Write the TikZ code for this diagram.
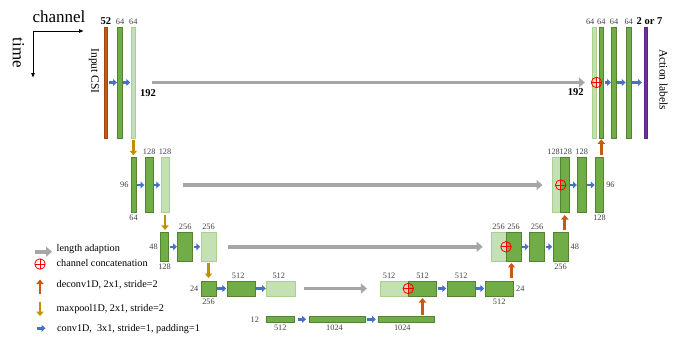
\documentclass[tikz,border=0pt]{standalone}
\usepackage{fontspec}
\setmainfont{Liberation Serif}
\usetikzlibrary{positioning,arrows.meta}
\definecolor{dkgreen}{HTML}{70AD47}
\definecolor{dkline}{HTML}{548235}
\definecolor{ltgreen}{HTML}{C5E0B4}
\definecolor{ltline}{HTML}{A9D18E}
\definecolor{csibrown}{HTML}{C55A11}
\definecolor{actpurple}{HTML}{7030A0}
\definecolor{convblue}{HTML}{4472C4}
\definecolor{lengray}{HTML}{A6A6A6}
\definecolor{upbrown}{HTML}{C55A11}
\definecolor{poolgold}{HTML}{BF9000}

\begin{document}
\begin{tikzpicture}[x=1pt,y=-1pt,
  dk/.style={draw=dkline,fill=dkgreen,line width=0.6pt,inner sep=0pt,outer sep=0pt},
  lt/.style={draw=ltline,fill=ltgreen,line width=0.6pt,inner sep=0pt,outer sep=0pt},
  brn/.style={draw=csibrown!80!black,fill=csibrown,line width=0.5pt,inner sep=0pt,outer sep=0pt},
  prp/.style={draw=actpurple!80!black,fill=actpurple,line width=0.5pt,inner sep=0pt,outer sep=0pt},
  w52/.style={minimum width=3.4pt}, w64/.style={minimum width=4.6pt},
  w128/.style={minimum width=8.2pt}, w256/.style={minimum width=15pt},
  w512/.style={minimum width=28.4pt}, w1024/.style={minimum width=56pt},
  h192/.style={minimum height=111pt}, h96/.style={minimum height=55.4pt},
  h48/.style={minimum height=28.3pt}, h24/.style={minimum height=15pt},
  h12/.style={minimum height=6.7pt},
  num/.style={font=\fontsize{8.3}{9}\selectfont,text=black!75,inner sep=1pt},
  big/.style={font=\fontsize{10.5}{12}\selectfont\bfseries,inner sep=1pt},
  leg/.style={font=\fontsize{10.2}{12}\selectfont,inner sep=0pt,anchor=base west},
  conv/.style={draw=convblue,line width=2.6pt,-{Triangle[length=3.8pt,width=6.8pt]},shorten <=1pt,shorten >=0.8pt},
  len/.style={draw=lengray,line width=3.8pt,-{Triangle[length=6pt,width=10pt]}},
  pool/.style={draw=poolgold,line width=2.7pt,-{Triangle[length=4.5pt,width=7.2pt]}},
  deconv/.style={draw=upbrown,line width=2.7pt,-{Triangle[length=4.5pt,width=7.2pt]}},
  cat/.style={circle,draw=red,line width=0.8pt,minimum size=10.5pt,inner sep=0pt,
    path picture={\draw[red,line width=0.8pt] (path picture bounding box.north) -- (path picture bounding box.south)
      (path picture bounding box.west) -- (path picture bounding box.east);}}]
\useasboundingbox (0,0) rectangle (675,340);

\coordinate (o) at (33,31); \coordinate (ax) at (84,31); \coordinate (ay) at (33,78);
\draw[line width=0.8pt,{Latex[length=5pt,width=4pt]}-{Latex[length=5pt,width=4pt]}] (ax) -- (o) -- (ay);
\node[font=\fontsize{17}{19}\selectfont,anchor=base,inner sep=0pt] (chan) at (59,22.5) {channel};
\node[font=\fontsize{17}{19}\selectfont,rotate=-90,inner sep=0pt] (time) at (18.5,53) {time};

\node[brn,w52,h192] (in1) at (105.8,82.5) {};
\node[dk,w64,h192] (e1a) at (120,82.5) {};
\node[lt,w64,h192] (e1b) at (133.3,82.5) {};
\node[lt,w64,h192] (d1c) at (594.2,82.5) {};
\node[dk,w64,h192] (d1a) at (601.3,82.5) {};
\node[dk,w64,h192] (d1b) at (614,82.5) {};
\node[dk,w64,h192] (d1d) at (628.7,82.5) {};
\node[prp,w52,h192] (out) at (646,82.5) {};

\node[dk,w64,h96] (e2a) at (133.5,185) {};
\node[dk,w128,h96] (e2b) at (149.2,185) {};
\node[lt,w128,h96] (e2c) at (165,185) {};
\node[lt,w128,h96] (d2c) at (556.6,185) {};
\node[dk,w128,h96] (d2a) at (564.8,185) {};
\node[dk,w128,h96] (d2b) at (581.7,185) {};
\node[dk,w128,h96] (d2d) at (599.5,185) {};

\node[dk,w128,h48] (e3a) at (164.5,246.8) {};
\node[dk,w256,h48] (e3b) at (185.2,246.8) {};
\node[lt,w256,h48] (e3c) at (208.5,246.8) {};
\node[lt,w256,h48] (d3c) at (498.5,246.8) {};
\node[dk,w256,h48] (d3a) at (513.5,246.8) {};
\node[dk,w256,h48] (d3b) at (537,246.8) {};
\node[dk,w256,h48] (d3d) at (560.5,246.8) {};

\node[dk,w256,h24] (e4a) at (208.5,288.5) {};
\node[dk,w512,h24] (e4b) at (241.2,288.5) {};
\node[lt,w512,h24] (e4c) at (280.8,288.5) {};
\node[lt,w512,h24] (d4c) at (394.1,288.5) {};
\node[dk,w512,h24] (d4a) at (422.5,288.5) {};
\node[dk,w512,h24] (d4b) at (461.2,288.5) {};
\node[dk,w512,h24] (d4d) at (499.2,288.5) {};

\node[dk,w512,h12] (b5a) at (280.3,319.3) {};
\node[dk,w1024,h12] (b5b) at (337,319.3) {};
\node[dk,w1024,h12] (b5c) at (406.3,319.3) {};

\node[font=\fontsize{11.5}{13}\selectfont,rotate=-90,inner sep=0pt] (csi) at (94,71) {Input CSI};
\node[font=\fontsize{11.5}{13}\selectfont,rotate=-90,inner sep=0pt] (act) at (663.5,79.7) {Action labels};
\node[big,above=1.5pt of in1] (t-in1) {52};
\node[num,above=1.5pt of e1a] (t-e1a) {64};
\node[num,above=1.5pt of e1b] (t-e1b) {64};
\node[big] (l192) at (148,93.5) {192};
\node[big] (r192) at (575.7,92.5) {192};
\node[num,above=1.5pt of d1c,xshift=-4pt] (t-d1c) {64};
\node[num,above=1.5pt of d1a] (t-d1a) {64};
\node[num,above=1.5pt of d1b] (t-d1b) {64};
\node[num,above=1.5pt of d1d] (t-d1d) {64};
\node[big,above=1.5pt of out,xshift=3.5pt] (t-out) {2 or 7};

\node[num,left=1.5pt of e2a] (s-e2a) {96};
\node[num,below=1.5pt of e2a] (u-e2a) {64};
\node[num,above=1.5pt of e2b] (t-e2b) {128};
\node[num,above=1.5pt of e2c] (t-e2c) {128};
\node[num,above=1.5pt of d2c,xshift=-3pt] (t-d2c) {128};
\node[num,above=1.5pt of d2a,xshift=1pt] (t-d2a) {128};
\node[num,above=1.5pt of d2b] (t-d2b) {128};
\node[num,right=1.5pt of d2d] (s-d2d) {96};
\node[num,below=1.5pt of d2d] (u-d2d) {128};

\node[num,left=1.5pt of e3a] (s-e3a) {48};
\node[num,below=1.5pt of e3a] (u-e3a) {128};
\node[num,above=1.5pt of e3b] (t-e3b) {256};
\node[num,above=1.5pt of e3c] (t-e3c) {256};
\node[num,above=1.5pt of d3c] (t-d3c) {256};
\node[num,above=1.5pt of d3a] (t-d3a) {256};
\node[num,above=1.5pt of d3b] (t-d3b) {256};
\node[num,right=1.5pt of d3d] (s-d3d) {48};
\node[num,below=1.5pt of d3d] (u-d3d) {256};

\node[num,left=1.5pt of e4a] (s-e4a) {24};
\node[num,below=1.5pt of e4a] (u-e4a) {256};
\node[num,above=1.5pt of e4b,xshift=-3pt] (t-e4b) {512};
\node[num,above=1.5pt of e4c,xshift=-2pt] (t-e4c) {512};
\node[num,above=1.5pt of d4c,xshift=-5pt] (t-d4c) {512};
\node[num,above=1.5pt of d4a] (t-d4a) {512};
\node[num,above=1.5pt of d4b] (t-d4b) {512};
\node[num,right=1.5pt of d4d] (s-d4d) {24};
\node[num,below=1.5pt of d4d] (u-d4d) {512};

\node[num,left=6pt of b5a] (s-b5a) {12};
\node[num,below=1.5pt of b5a] (u-b5a) {512};
\node[num,below=1.5pt of b5b,xshift=-2.5pt] (u-b5b) {1024};
\node[num,below=1.5pt of b5c,xshift=-4pt] (u-b5c) {1024};

\path (in1) edge[conv] (e1a) (e1a) edge[conv] (e1b);
\path (d1a) edge[conv] (d1b) (d1b) edge[conv] (d1d) (d1d) edge[conv,shorten >=2.5pt] (out);
\path (e2a) edge[conv] (e2b) (e2b) edge[conv] (e2c);
\path (d2a) edge[conv] (d2b) (d2b) edge[conv] (d2d);
\path (e3a) edge[conv] (e3b) (e3b) edge[conv] (e3c);
\path (d3a) edge[conv] (d3b) (d3b) edge[conv] (d3d);
\path (e4a) edge[conv] (e4b) (e4b) edge[conv] (e4c);
\path (d4a) edge[conv] (d4b) (d4b) edge[conv] (d4d);
\path (b5a) edge[conv,shorten <=3pt,shorten >=3pt] (b5b) (b5b) edge[conv,shorten <=1.5pt,shorten >=2.5pt] (b5c);

\path (e1b) edge[len,shorten <=16.4pt,shorten >=7pt] (d1c);
\path (e2c) edge[len,shorten <=13.6pt,shorten >=10pt] (d2c);
\path (e3c) edge[len,shorten <=12.3pt,shorten >=8.3pt] (d3c);
\path (e4c) edge[len,shorten <=9.3pt,shorten >=13pt] (d4c);

\path (e1b.south) edge[pool,shorten <=2pt,shorten >=2pt] (e1b.south |- e2a.north);
\path (e2c.south) edge[pool,shorten <=2.3pt,shorten >=2.7pt] (e2c.south |- e3a.north);
\path (e3c.south) edge[pool,shorten <=2pt,shorten >=3pt] (e3c.south |- e4a.north);

\path (d4a.south |- b5c.north) edge[deconv,shorten <=1pt,shorten >=2pt] (d4a.south);
\path ([xshift=-2pt]d3a.south |- d4d.north) edge[deconv,shorten <=3pt,shorten >=2pt] ([xshift=-2pt]d3a.south);
\path (d2a.south |- d3d.north) edge[deconv,shorten <=2.7pt,shorten >=2.3pt] (d2a.south);
\path (d1a.south |- d2d.north) edge[deconv,shorten <=2.3pt,shorten >=1.3pt] (d1a.south);

\node[cat] (cat1) at (d1c.east) {};
\node[cat] (cat2) at (d2c.east) {};
\node[cat] (cat3) at (d3c.east) {};
\node[cat] (cat4) at (d4c.east) {};

\coordinate (g1a) at (35,251.7); \coordinate (g1b) at (52,251.7);
\path (g1a) edge[len] (g1b);
\node[leg] (g1t) at (56.5,251.7) {length adaption};
\node[cat] (g2c) at (40,264) {};
\node[leg] (g2t) at (56.5,266.3) {channel concatenation};
\coordinate (g3a) at (40,293.5); \coordinate (g3b) at (40,279.5);
\path (g3a) edge[deconv] (g3b);
\node[leg] (g3t) at (56.5,287) {deconv1D, 2x1, stride=2};
\coordinate (g4a) at (40,301.5); \coordinate (g4b) at (40,316);
\path (g4a) edge[pool] (g4b);
\node[leg] (g4t) at (56.5,311) {maxpool1D, 2x1, stride=2};
\coordinate (g5a) at (36.5,328.3); \coordinate (g5b) at (45.5,328.3);
\path (g5a) edge[conv,shorten <=0pt,shorten >=0pt] (g5b);
\node[leg] (g5t) at (57,331) {conv1D,~ 3x1, stride=1, padding=1};
\end{tikzpicture}
\end{document}
